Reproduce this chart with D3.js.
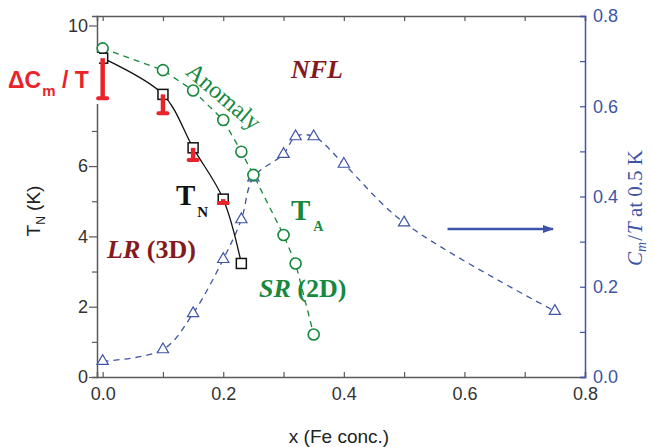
<!DOCTYPE html>
<html>
<head>
<meta charset="utf-8">
<script src="https://cdn.jsdelivr.net/npm/d3@7"></script>
<style>
  body { margin: 0; background: #fff; }
  svg { display: block; }
  .tick text { font-family: "Liberation Sans", Arial, sans-serif; }
</style>
</head>
<body>
<div id="chart"></div>
<script>
// Datos
const tnX = [0, 0.1, 0.15, 0.2, 0.23];
const tnY = [9.07, 8.04, 6.52, 5.06, 3.23];

const taX = [0, 0.1, 0.15, 0.2, 0.23, 0.25, 0.3, 0.32, 0.35];
const taY = [9.35, 8.73, 8.15, 7.31, 6.41, 5.75, 4.04, 3.23, 1.21];

const dcX = [0, 0.1, 0.15, 0.2];
const dcLow = [7.93, 7.5, 6.17, 4.95];

const cmX = [0, 0.1, 0.15, 0.2, 0.23, 0.25, 0.3, 0.32, 0.35, 0.4, 0.5, 0.75];
const cmY = [0.035, 0.061, 0.141, 0.261, 0.349, 0.442, 0.494, 0.533, 0.533, 0.472, 0.342, 0.146];

const xTicks = [0, 0.2, 0.4, 0.6, 0.8];
// el "8" queda tapado por la etiqueta Delta Cm/T en la figura
const yLTicks = [0, 2, 4, 6, 10];
const yRTicks = [0, 0.2, 0.4, 0.6, 0.8];

// Colores
const green = "#17893f";
const blue = "#3e54a6";
const red = "#e8232a";
const darkRed = "#851a1e";
const axisGray = "#5a5a5a";

const W = 653, H = 447;
const svg = d3.select("#chart").append("svg").attr("width", W).attr("height", H);

const x = d3.scaleLinear().domain([-0.0094, 0.8]).range([97, 585]);
const yL = d3.scaleLinear().domain([0, 10.27]).range([377, 16]);
const yR = d3.scaleLinear().domain([0, 0.8]).range([377, 16]);

const serif = '"Liberation Serif", "Times New Roman", serif';
const sans = '"Liberation Sans", Arial, sans-serif';

// --------------------
// Ejes
// --------------------
const minorX = d3.range(0, 0.81, 0.1);

// inferior
const gB = svg.append("g").attr("transform", `translate(0,377)`);
gB.call(d3.axisTop(x).tickValues(minorX).tickSize(5).tickFormat(""));
gB.select(".domain").attr("stroke", axisGray).attr("stroke-width", 1.5);
gB.selectAll(".tick line").attr("stroke", axisGray).attr("stroke-width", 1.2);
const gBl = svg.append("g").attr("transform", `translate(0,377)`);
gBl.call(d3.axisBottom(x).tickValues(xTicks).tickSize(0).tickPadding(10).tickFormat(d3.format(".1f")));
gBl.select(".domain").remove();
gBl.selectAll("text").attr("font-size", 18).attr("fill", "#333");

// superior
const gT = svg.append("g").attr("transform", `translate(0,16)`);
gT.call(d3.axisBottom(x).tickValues(minorX).tickSize(5).tickFormat(""));
gT.select(".domain").attr("stroke", axisGray).attr("stroke-width", 1.5);
gT.selectAll(".tick line").attr("stroke", axisGray).attr("stroke-width", 1.2);

// izquierdo
const gL = svg.append("g").attr("transform", `translate(97,0)`);
gL.call(d3.axisLeft(yL).tickValues(d3.range(0, 11, 1)).tickSize(5).tickFormat(""));
gL.selectAll(".tick line").filter((d) => d % 2 === 0).attr("x2", -8);
gL.select(".domain").attr("stroke", axisGray).attr("stroke-width", 1.5);
gL.selectAll(".tick line").attr("stroke", axisGray).attr("stroke-width", 1.2);
const gLl = svg.append("g").attr("transform", `translate(97,0)`);
gLl.call(d3.axisLeft(yL).tickValues(yLTicks).tickSize(0).tickPadding(9));
gLl.select(".domain").remove();
gLl.selectAll("text").attr("font-size", 18).attr("fill", "#333");

// derecho
const gR = svg.append("g").attr("transform", `translate(585,0)`);
gR.call(d3.axisLeft(yR).tickValues(d3.range(0, 0.81, 0.1)).tickSize(5).tickFormat(""));
gR.select(".domain").attr("stroke", blue).attr("stroke-width", 1.5);
gR.selectAll(".tick line").attr("stroke", blue).attr("stroke-width", 1.2);
const gRl = svg.append("g").attr("transform", `translate(585,0)`);
gRl.call(d3.axisRight(yR).tickValues(yRTicks).tickSize(0).tickPadding(8).tickFormat(d3.format(".1f")));
gRl.select(".domain").remove();
gRl.selectAll("text").attr("font-size", 18).attr("fill", blue);

// Titulos de ejes
svg.append("text")
  .attr("x", 339).attr("y", 443)
  .attr("text-anchor", "middle")
  .attr("font-family", sans).attr("font-size", 19).attr("fill", "#222")
  .text("x (Fe conc.)");

const ylab = svg.append("text")
  .attr("transform", "translate(40,211) rotate(-90)")
  .attr("text-anchor", "middle")
  .attr("font-family", sans).attr("font-size", 19).attr("fill", "#222");
ylab.append("tspan").text("T");
ylab.append("tspan").attr("font-size", 12).attr("dy", 5).text("N");
ylab.append("tspan").attr("dy", -5).text(" (K)");

const rlab = svg.append("text")
  .attr("transform", "translate(642,208) rotate(-90)")
  .attr("text-anchor", "middle")
  .attr("font-family", serif).attr("font-size", 21).attr("fill", blue);
rlab.append("tspan").attr("font-style", "italic").text("C");
rlab.append("tspan").attr("font-style", "italic").attr("font-size", 14).attr("dy", 4).text("m");
rlab.append("tspan").attr("dy", -4).attr("dx", 1).text("/");
rlab.append("tspan").attr("font-style", "italic").attr("dx", 1).text("T");
rlab.append("tspan").text(" at 0.5 K");

// --------------------
// Curvas
// --------------------
const cmData = cmX.map((v, i) => ({ x: v, y: cmY[i] }));
const taData = taX.map((v, i) => ({ x: v, y: taY[i] }));
const tnData = tnX.map((v, i) => ({ x: v, y: tnY[i] }));
const dcData = dcX.map((v, i) => ({ x: v, top: tnY[i], low: dcLow[i] }));

svg.append("path")
  .datum(cmData)
  .attr("fill", "none").attr("stroke", blue).attr("stroke-width", 1.3)
  .attr("stroke-dasharray", "6,5")
  .attr("d", d3.line().x((d) => x(d.x)).y((d) => yR(d.y)).curve(d3.curveCatmullRom));

svg.append("path")
  .datum(taData)
  .attr("fill", "none").attr("stroke", green).attr("stroke-width", 1.3)
  .attr("stroke-dasharray", "6,5")
  .attr("d", d3.line().x((d) => x(d.x)).y((d) => yL(d.y)));

svg.append("path")
  .datum(tnData)
  .attr("fill", "none").attr("stroke", "#111").attr("stroke-width", 1.3)
  .attr("d", d3.line().x((d) => x(d.x)).y((d) => yL(d.y)).curve(d3.curveCatmullRom));

// Simbolos
svg.selectAll(".tri")
  .data(cmData)
  .enter()
  .append("path")
  .attr("class", "tri")
  .attr("transform", (d) => `translate(${x(d.x)},${yR(d.y)})`)
  .attr("d", d3.symbol().type(d3.symbolTriangle).size(55))
  .attr("fill", "#fff").attr("stroke", blue).attr("stroke-width", 1.2);

svg.selectAll(".circ")
  .data(taData)
  .enter()
  .append("circle")
  .attr("class", "circ")
  .attr("cx", (d) => x(d.x))
  .attr("cy", (d) => yL(d.y))
  .attr("r", 5.5)
  .attr("fill", "#fff").attr("stroke", green).attr("stroke-width", 1.6);

svg.selectAll(".sq")
  .data(tnData)
  .enter()
  .append("rect")
  .attr("class", "sq")
  .attr("x", (d) => x(d.x) - 5)
  .attr("y", (d) => yL(d.y) - 5)
  .attr("width", 10).attr("height", 10)
  .attr("fill", "#fff").attr("stroke", "#111").attr("stroke-width", 1.5);

// Etiqueta Delta Cm/T con fondo blanco
svg.append("rect")
  .attr("x", 0).attr("y", 53).attr("width", 99).attr("height", 51)
  .attr("fill", "#fff");

const dct = svg.append("text")
  .attr("x", 8).attr("y", 88)
  .attr("font-family", sans).attr("font-weight", "bold").attr("font-size", 23).attr("fill", red);
dct.append("tspan").text("\u0394C");
dct.append("tspan").attr("font-size", 15).attr("dy", 8).attr("dx", 1).text("m");
dct.append("tspan").attr("dy", -8).text(" / T");

// Barras rojas
const bars = svg.selectAll(".dc").data(dcData).enter().append("g").attr("class", "dc");
bars.append("line")
  .attr("x1", (d) => x(d.x)).attr("x2", (d) => x(d.x))
  .attr("y1", (d) => yL(d.top)).attr("y2", (d) => yL(d.low))
  .attr("stroke", red).attr("stroke-width", 4.5);
bars.append("line")
  .attr("x1", (d) => x(d.x) - 4.5).attr("x2", (d) => x(d.x) + 4.5)
  .attr("y1", (d) => yL(d.low)).attr("y2", (d) => yL(d.low))
  .attr("stroke", red).attr("stroke-width", 4).attr("stroke-linecap", "round");

// Flecha
svg.append("defs").append("marker")
  .attr("id", "arrow")
  .attr("viewBox", "0 0 10 10")
  .attr("refX", 9).attr("refY", 5)
  .attr("markerWidth", 4.5).attr("markerHeight", 4.5)
  .attr("orient", "auto")
  .append("path").attr("d", "M0,1.5 L10,5 L0,8.5 Z").attr("fill", blue);

svg.append("line")
  .attr("x1", x(0.572)).attr("x2", x(0.747))
  .attr("y1", yR(0.328)).attr("y2", yR(0.328))
  .attr("stroke", blue).attr("stroke-width", 2.5)
  .attr("marker-end", "url(#arrow)");

// --------------------
// Textos de regiones
// --------------------
svg.append("text")
  .attr("x", 291).attr("y", 78)
  .attr("font-family", serif).attr("font-weight", "bold").attr("font-style", "italic")
  .attr("font-size", 26).attr("fill", darkRed)
  .text("NFL");

svg.append("text")
  .attr("transform", "translate(224,96) rotate(40.5)")
  .attr("text-anchor", "middle").attr("dy", "0.35em")
  .attr("font-family", serif).attr("font-size", 24).attr("fill", green)
  .text("Anomaly");

const tnl = svg.append("text")
  .attr("x", 176).attr("y", 205)
  .attr("font-family", serif).attr("font-weight", "bold").attr("font-size", 29).attr("fill", "#111");
tnl.append("tspan").text("T");
tnl.append("tspan").attr("font-size", 15).attr("dy", 12).attr("dx", 2).text("N");

const tal = svg.append("text")
  .attr("x", 291).attr("y", 220)
  .attr("font-family", serif).attr("font-weight", "bold").attr("font-size", 29).attr("fill", green);
tal.append("tspan").text("T");
tal.append("tspan").attr("font-size", 14).attr("dy", 11).attr("dx", 3).text("A");

const lr = svg.append("text")
  .attr("x", 107).attr("y", 258)
  .attr("font-family", serif).attr("font-weight", "bold").attr("font-size", 26).attr("fill", darkRed);
lr.append("tspan").attr("font-style", "italic").text("LR");
lr.append("tspan").text(" (3D)");

const sr = svg.append("text")
  .attr("x", 259).attr("y", 297)
  .attr("font-family", serif).attr("font-weight", "bold").attr("font-size", 26).attr("fill", green);
sr.append("tspan").attr("font-style", "italic").text("SR");
sr.append("tspan").text(" (2D)");
</script>
</body>
</html>
